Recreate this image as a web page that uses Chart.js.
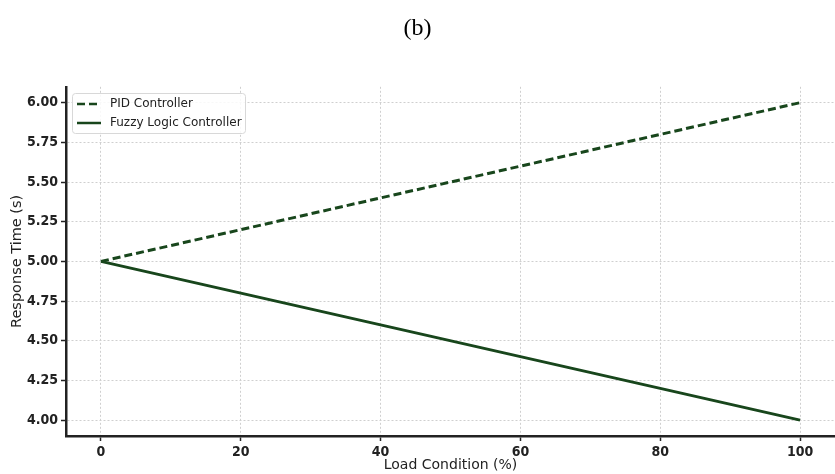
<!DOCTYPE html>
<html><head><meta charset="utf-8">
<script src="https://cdn.jsdelivr.net/npm/chart.js@4.4.1/dist/chart.umd.min.js"></script>
<style>html,body{margin:0;padding:0;background:#fff;}#wrap{width:835px;height:474px;position:relative;}</style>
</head><body><div id="wrap"><canvas id="c" width="835" height="474"></canvas></div>
<script>
const loadCondition = [0, 20, 40, 60, 80, 100];
const pidResponse = [5.0, 5.2, 5.4, 5.6, 5.8, 6.0];
const fuzzyResponse = [5.0, 4.8, 4.6, 4.4, 4.2, 4.0];
const xTicks = [0, 20, 40, 60, 80, 100];
const yTicks = [4.00, 4.25, 4.50, 4.75, 5.00, 5.25, 5.50, 5.75, 6.00];

const lineColor = '#18461c';
const legendPlugin = {
  id: 'insideLegend',
  afterDraw(chart) {
    const ctx = chart.ctx;
    const x0 = 72, y0 = 93, w = 173, h = 40;
    ctx.save();
    ctx.fillStyle = 'rgba(255,255,255,0.85)';
    ctx.strokeStyle = '#d8d8d8';
    ctx.lineWidth = 1;
    ctx.beginPath();
    ctx.roundRect(x0 + 0.5, y0 + 0.5, w, h, 3);
    ctx.fill(); ctx.stroke();
    ctx.font = '12px "DejaVu Sans"';
    ctx.textBaseline = 'middle';
    chart.data.datasets.forEach((ds, i) => {
      const yy = y0 + 11 + i * 19;
      ctx.strokeStyle = ds.borderColor;
      ctx.lineWidth = 2.5;
      ctx.setLineDash(ds.borderDash || []);
      ctx.beginPath(); ctx.moveTo(77, yy); ctx.lineTo(101, yy); ctx.stroke();
      ctx.setLineDash([]);
      ctx.fillStyle = '#222';
      ctx.fillText(ds.label, 110, yy);
    });
    ctx.restore();
  }
};

new Chart(document.getElementById('c'), {
  type: 'line',
  data: {
    labels: loadCondition,
    datasets: [
      { label: 'PID Controller', data: loadCondition.map((x, i) => ({x, y: pidResponse[i]})),
        borderColor: lineColor, borderWidth: 3, borderDash: [8, 4], pointRadius: 0, fill: false, tension: 0 },
      { label: 'Fuzzy Logic Controller', data: loadCondition.map((x, i) => ({x, y: fuzzyResponse[i]})),
        borderColor: lineColor, borderWidth: 3, pointRadius: 0, fill: false, tension: 0 }
    ]
  },
  plugins: [legendPlugin],
  options: {
    responsive: false, animation: false, devicePixelRatio: 1,
    layout: { padding: { left: 0, right: 0, top: 0, bottom: 0 } },
    plugins: {
      legend: { display: false },
      tooltip: { enabled: false },
      title: { display: true, text: '(b)', color: '#000',
        font: { family: '"Liberation Serif"', size: 24, weight: 'normal' },
        padding: { top: 14, bottom: 44 } }
    },
    scales: {
      x: {
        type: 'linear', min: -5, max: 105,
        afterBuildTicks: s => { s.ticks = xTicks.map(v => ({value: v})); },
        afterFit: s => { s.height = 38; },
        ticks: { color: '#222', font: { family: '"DejaVu Sans Condensed"', size: 14, weight: 'bold' }, padding: 3, callback: v => String(v) },
        grid: { color: '#cfcfcf', lineWidth: 1, tickColor: '#222', tickLength: 5, tickWidth: 1.5 },
        border: { display: true, color: '#222', width: 2.5, dash: [2, 2] },
        title: { display: true, text: 'Load Condition (%)', color: '#222',
          font: { family: '"DejaVu Sans"', size: 14 }, padding: { top: 0, bottom: 0 } }
      },
      y: {
        type: 'linear', min: 3.9, max: 6.1,
        afterBuildTicks: s => { s.ticks = yTicks.map(v => ({value: v})); },
        afterFit: s => { s.width = 66; },
        ticks: { color: '#222', font: { family: '"DejaVu Sans Condensed"', size: 14, weight: 'bold' }, padding: 3, callback: v => Number(v).toFixed(2) },
        grid: { color: '#cfcfcf', lineWidth: 1, tickColor: '#222', tickLength: 5, tickWidth: 1.5 },
        border: { display: true, color: '#222', width: 2.5, dash: [2, 2] },
        title: { display: true, text: 'Response Time (s)', color: '#222',
          font: { family: '"DejaVu Sans"', size: 14.5 }, padding: { top: 9, bottom: 2 } }
      }
    }
  }
});
</script></body></html>
